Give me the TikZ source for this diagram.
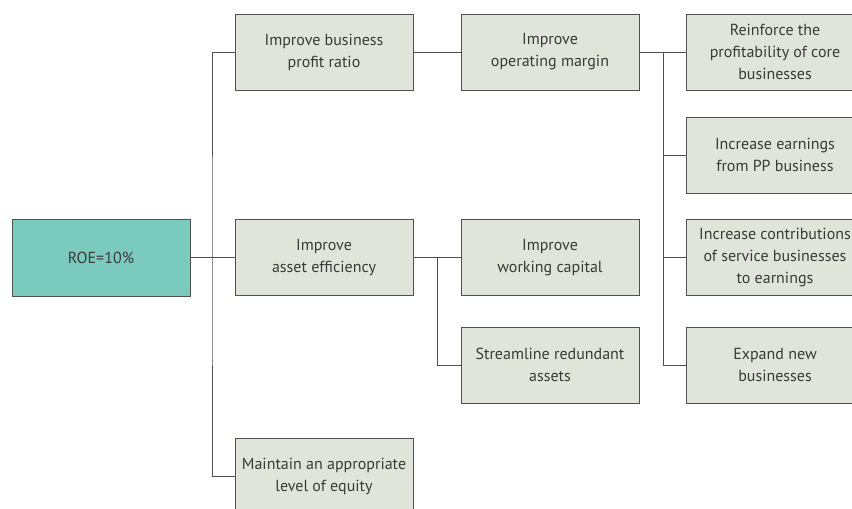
\documentclass[tikz,border=0pt]{standalone}
\usepackage{fontspec}
\setmainfont{PT Sans}
\definecolor{teal}{HTML}{7ACABD}
\definecolor{boxfill}{HTML}{E0E4DA}
\definecolor{edge}{HTML}{505050}
\definecolor{txt}{HTML}{3A3A3A}
\begin{document}
\begin{tikzpicture}[x=1pt,y=-1pt,
  box/.style={draw=edge,line width=1pt,fill=boxfill,minimum width=178pt,minimum height=76pt,
    inner sep=0pt,align=center,text=txt,font=\fontsize{16}{22}\selectfont},
  conn/.style={draw=edge,line width=0.9pt}]
\useasboundingbox (0,0) rectangle (852,509);
\clip (0,0) rectangle (852,509);
\node[box,fill=teal,minimum height=77pt] (roe) at (101,257.5) {ROE=10\%};
\node[box] (a1) at (324,52) {Improve business\\profit ratio};
\node[box] (a2) at (324,257.5) {Improve\\asset efficiency};
\node[box] (a3) at (324,476.5) {Maintain an appropriate\\level of equity};
\node[box] (b1) at (550,52) {Improve\\operating margin};
\node[box] (b2) at (550,257.5) {Improve\\working capital};
\node[box] (b3) at (550,365) {Streamline redundant\\assets};
\node[box] (c1) at (775,52) {Reinforce the\\profitability of core\\businesses};
\node[box] (c2) at (775,155) {Increase earnings\\from PP business};
\node[box] (c3) at (775,257.5) {Increase contributions\\of service businesses\\to earnings};
\node[box] (c4) at (775,365) {Expand new\\businesses};
\coordinate (j1) at (212,257.5);
\coordinate (j2) at (437,257.5);
\coordinate (j3) at (663,52);
\draw[conn] (roe.east) -- (a2.west);
\draw[conn] (a1.west) -| (j1) |- (a3.west);
\draw[conn] (a1.east) -- (b1.west);
\draw[conn] (a2.east) -- (b2.west);
\draw[conn] (j2) |- (b3.west);
\draw[conn] (b1.east) -- (c1.west);
\draw[conn] (j3) |- (c4.west);
\draw[conn] (j3 |- c2.west) -- (c2.west);
\draw[conn] (j3 |- c3.west) -- (c3.west);
\end{tikzpicture}
\end{document}
